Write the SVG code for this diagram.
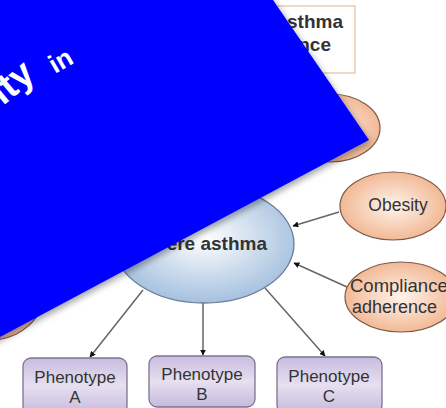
<svg xmlns="http://www.w3.org/2000/svg" width="446" height="408" viewBox="0 0 446 408">
  <style>
    .lbl { font-family: "Liberation Sans", Arial, sans-serif; fill: #333333; }
    .bold { font-weight: bold; }
    .conn { stroke: #666666; stroke-width: 1.5; fill: none; marker-end: url(#arrow); }
    .factor { fill: url(#orangeGrad); stroke: #7a5a4a; stroke-width: 1.2; }
    .pheno { fill: url(#purpleGrad); stroke: #7d7390; stroke-width: 1.3; }
    .slideText { font-family: "Liberation Sans", Arial, sans-serif; font-weight: bold; fill: #ffffff; }
  </style>
  <defs>
    <radialGradient id="orangeGrad" cx="50%" cy="50%" r="55%">
      <stop offset="0" stop-color="#fef4ec"/>
      <stop offset="1" stop-color="#f1b38d"/>
    </radialGradient>
    <radialGradient id="blueGrad" cx="50%" cy="45%" r="60%">
      <stop offset="0" stop-color="#ffffff"/>
      <stop offset="1" stop-color="#9dbbdc"/>
    </radialGradient>
    <linearGradient id="purpleGrad" x1="0" y1="0" x2="0" y2="1">
      <stop offset="0" stop-color="#c8bcdf"/>
      <stop offset="0.5" stop-color="#e6e0f0"/>
      <stop offset="1" stop-color="#c6badc"/>
    </linearGradient>
    <marker id="arrow" viewBox="0 0 10 10" refX="9" refY="5" markerWidth="6" markerHeight="6" orient="auto" markerUnits="userSpaceOnUse">
      <path d="M0,0 L10,5 L0,10 z" fill="#111111"/>
    </marker>
    <filter id="shadow" x="-10%" y="-10%" width="130%" height="130%">
      <feDropShadow dx="2" dy="3" stdDeviation="3" flood-color="#000000" flood-opacity="0.35"/>
    </filter>
  </defs>

  <rect width="446" height="408" fill="#ffffff"/>

  <!-- connectors -->
  <g id="connectors">
    <line class="conn" x1="339" y1="212" x2="293" y2="226"/>
    <line class="conn" x1="347" y1="287" x2="294" y2="263"/>
    <line class="conn" x1="143" y1="290" x2="90" y2="357"/>
    <line class="conn" x1="203" y1="303" x2="203" y2="355"/>
    <line class="conn" x1="265" y1="288" x2="325" y2="356"/>
  </g>

  <g id="node-top-box">
    <rect x="180" y="6" width="175" height="67" fill="#ffffff" stroke="#f0c09c" stroke-width="1.3"/>
    <text class="lbl bold" x="343" y="28" font-size="19" text-anchor="end">sthma</text>
    <text class="lbl bold" x="331" y="51" font-size="19" text-anchor="end">nce</text>
  </g>

  <g id="node-upper-factor">
    <ellipse class="factor" cx="330" cy="128" rx="50" ry="34"/>
  </g>

  <g id="node-left-factor">
    <ellipse class="factor" cx="-10" cy="290" rx="55" ry="50"/>
  </g>

  <g id="node-obesity">
    <ellipse class="factor" cx="393" cy="206" rx="53" ry="34"/>
    <text class="lbl" x="398" y="211" font-size="17.5" text-anchor="middle">Obesity</text>
  </g>

  <g id="node-compliance">
    <ellipse class="factor" cx="401" cy="297" rx="56" ry="35"/>
    <text class="lbl" x="350" y="292" font-size="18.5">Compliance</text>
    <text class="lbl" x="352" y="313" font-size="18">adherence</text>
  </g>

  <g id="node-severe-asthma">
    <ellipse cx="204" cy="244" rx="90" ry="59" fill="url(#blueGrad)" stroke="#6b7d96" stroke-width="1.3"/>
    <text class="lbl bold" x="267" y="250" font-size="19" text-anchor="end">Severe asthma</text>
  </g>

  <g id="node-phenotype-a">
    <rect class="pheno" x="23" y="358" width="104" height="56" rx="8"/>
    <text class="lbl" x="75" y="383" font-size="17" text-anchor="middle">Phenotype</text>
    <text class="lbl" x="75" y="403" font-size="17" text-anchor="middle">A</text>
  </g>

  <g id="node-phenotype-b">
    <rect class="pheno" x="149" y="356" width="106" height="51" rx="8"/>
    <text class="lbl" x="202" y="380" font-size="17" text-anchor="middle">Phenotype</text>
    <text class="lbl" x="202" y="400" font-size="17" text-anchor="middle">B</text>
  </g>

  <g id="node-phenotype-c">
    <rect class="pheno" x="277" y="357" width="105" height="56" rx="8"/>
    <text class="lbl" x="329" y="382" font-size="17" text-anchor="middle">Phenotype</text>
    <text class="lbl" x="329" y="402" font-size="17" text-anchor="middle">C</text>
  </g>

  <!-- title slide panel laid over the diagram -->
  <g id="title-panel">
    <polygon points="-30,-30 252,-30 273,0 369,140 0,337 -30,353" fill="#0000ff" filter="url(#shadow)"/>
    <text class="slideText" x="3" y="106" font-size="38" transform="rotate(-40 3 106)">ity</text>
    <text class="slideText" x="55" y="74" font-size="26" transform="rotate(-30 55 74)">in</text>
  </g>
</svg>
